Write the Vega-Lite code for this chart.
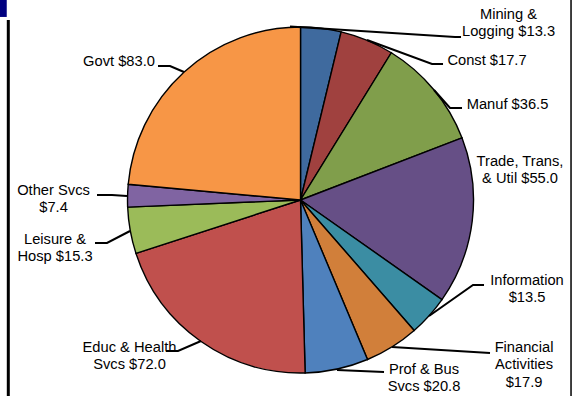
{
  "$schema": "https://vega.github.io/schema/vega-lite/v6.json",
  "width": 573,
  "height": 396,
  "autosize": {"type": "none"},
  "padding": 0,
  "background": "white",
  "config": {"view": {"stroke": null}},
  "datasets": {
    "sectors": [
      {"sector": "Mining & Logging", "value": 13.3, "ord": 1},
      {"sector": "Const", "value": 17.7, "ord": 2},
      {"sector": "Manuf", "value": 36.5, "ord": 3},
      {"sector": "Trade, Trans, & Util", "value": 55.0, "ord": 4},
      {"sector": "Information", "value": 13.5, "ord": 5},
      {"sector": "Financial Activities", "value": 17.9, "ord": 6},
      {"sector": "Prof & Bus Svcs", "value": 20.8, "ord": 7},
      {"sector": "Educ & Health Svcs", "value": 72.0, "ord": 8},
      {"sector": "Leisure & Hosp", "value": 15.3, "ord": 9},
      {"sector": "Other Svcs", "value": 7.4, "ord": 10},
      {"sector": "Govt", "value": 83.0, "ord": 11}
    ],
    "labels": [
      {"label": "Mining &\nLogging $13.3", "lx": 1.2023, "ly": 1.0694},
      {"label": "Const $17.7", "lx": 1.078, "ly": 0.8035},
      {"label": "Manuf $36.5", "lx": 1.1965, "ly": 0.5491},
      {"label": "Trade, Trans,\n& Util $55.0", "lx": 1.2688, "ly": 0.2197},
      {"label": "Information\n$13.5", "lx": 1.3092, "ly": -0.4682},
      {"label": "Financial\nActivities\n$17.9", "lx": 1.2919, "ly": -0.8555},
      {"label": "Prof & Bus\nSvcs $20.8", "lx": 0.7139, "ly": -0.9827},
      {"label": "Educ & Health\nSvcs $72.0", "lx": -0.9884, "ly": -0.8555},
      {"label": "Leisure &\nHosp $15.3", "lx": -1.4191, "ly": -0.2312},
      {"label": "Other Svcs\n$7.4", "lx": -1.4277, "ly": 0.052},
      {"label": "Govt $83.0", "lx": -1.0491, "ly": 0.7977}
    ],
    "leaders": [
      {"sector": "Mining", "seq": 1, "x": -0.0607, "y": 1.003},
      {"sector": "Mining", "seq": 2, "x": 0.8931, "y": 0.9422},
      {"sector": "Mining", "seq": 3, "x": 0.9277, "y": 0.9422},
      {"sector": "Const", "seq": 1, "x": 0.3844, "y": 0.9249},
      {"sector": "Const", "seq": 2, "x": 0.7601, "y": 0.7861},
      {"sector": "Const", "seq": 3, "x": 0.8237, "y": 0.7861},
      {"sector": "Manuf", "seq": 1, "x": 0.7717, "y": 0.6358},
      {"sector": "Manuf", "seq": 2, "x": 0.8642, "y": 0.5318},
      {"sector": "Manuf", "seq": 3, "x": 0.9335, "y": 0.5318},
      {"sector": "Information", "seq": 1, "x": 0.7428, "y": -0.6705},
      {"sector": "Information", "seq": 2, "x": 0.9971, "y": -0.4913},
      {"sector": "Information", "seq": 3, "x": 1.0607, "y": -0.4913},
      {"sector": "Financial", "seq": 1, "x": 0.5289, "y": -0.8497},
      {"sector": "Financial", "seq": 2, "x": 1.0954, "y": -0.8844},
      {"sector": "Prof", "seq": 1, "x": 0.211, "y": -0.9827},
      {"sector": "Prof", "seq": 2, "x": 0.4827, "y": -0.9942},
      {"sector": "Educ", "seq": 1, "x": -0.5751, "y": -0.815},
      {"sector": "Educ", "seq": 2, "x": -0.7081, "y": -0.8728},
      {"sector": "Educ", "seq": 3, "x": -0.7775, "y": -0.8728},
      {"sector": "Leisure", "seq": 1, "x": -0.9855, "y": -0.1792},
      {"sector": "Leisure", "seq": 2, "x": -1.1185, "y": -0.2486},
      {"sector": "Leisure", "seq": 3, "x": -1.1879, "y": -0.2486},
      {"sector": "Other", "seq": 1, "x": -1.0029, "y": 0.0231},
      {"sector": "Other", "seq": 2, "x": -1.0896, "y": 0.0289},
      {"sector": "Other", "seq": 3, "x": -1.1763, "y": 0.0289},
      {"sector": "Govt", "seq": 1, "x": -0.6734, "y": 0.7399},
      {"sector": "Govt", "seq": 2, "x": -0.7543, "y": 0.7746},
      {"sector": "Govt", "seq": 3, "x": -0.8237, "y": 0.7746}
    ]
  },
  "layer": [
    {
      "data": {"name": "sectors"},
      "mark": {"type": "arc", "outerRadius": 173, "stroke": "black", "strokeWidth": 1.4},
      "encoding": {
        "x": {"datum": 0, "type": "quantitative", "axis": null, "scale": {"domain": [-1.737, 1.575], "nice": false, "zero": false}},
        "y": {"datum": 0, "type": "quantitative", "axis": null, "scale": {"domain": [-1.133, 1.156], "nice": false, "zero": false}},
        "theta": {"field": "value", "type": "quantitative", "stack": true},
        "order": {"field": "ord", "type": "quantitative"},
        "color": {
          "field": "sector",
          "type": "nominal",
          "legend": null,
          "scale": {
            "domain": ["Mining & Logging", "Const", "Manuf", "Trade, Trans, & Util", "Information", "Financial Activities", "Prof & Bus Svcs", "Educ & Health Svcs", "Leisure & Hosp", "Other Svcs", "Govt"],
            "range": ["#3F6A9E", "#A0413F", "#809E4B", "#664F86", "#3B8DA3", "#D17F3A", "#4F81BD", "#C0504D", "#9BBB59", "#8064A2", "#F79646"]
          }
        }
      }
    },
    {
      "data": {"name": "leaders"},
      "mark": {"type": "line", "color": "black", "strokeWidth": 2},
      "encoding": {
        "x": {"field": "x", "type": "quantitative", "axis": null},
        "y": {"field": "y", "type": "quantitative", "axis": null},
        "detail": {"field": "sector"},
        "order": {"field": "seq", "type": "quantitative"}
      }
    },
    {
      "data": {"name": "labels"},
      "mark": {"type": "text", "font": "Liberation Sans", "fontSize": 14.7, "lineBreak": "\n", "lineHeight": 17.5, "align": "center", "baseline": "middle", "color": "black"},
      "encoding": {
        "x": {"field": "lx", "type": "quantitative", "axis": null},
        "y": {"field": "ly", "type": "quantitative", "axis": null},
        "text": {"field": "label"}
      }
    },
    {
      "data": {"values": [{}]},
      "mark": {"type": "rect", "color": "#000080"},
      "encoding": {
        "x": {"datum": -1.737, "type": "quantitative"},
        "x2": {"datum": -1.698},
        "y": {"datum": 1.156, "type": "quantitative"},
        "y2": {"datum": 1.058}
      }
    },
    {
      "data": {"values": [{}]},
      "mark": {"type": "rule", "color": "black", "strokeWidth": 3},
      "encoding": {
        "x": {"datum": -1.689, "type": "quantitative"},
        "y": {"datum": 1.04, "type": "quantitative"},
        "y2": {"datum": -1.133}
      }
    },
    {
      "data": {"values": [{}]},
      "mark": {"type": "rule", "color": "black", "strokeWidth": 1.5},
      "encoding": {
        "x": {"datum": 1.5636, "type": "quantitative"},
        "y": {"datum": 1.156, "type": "quantitative"},
        "y2": {"datum": -1.133}
      }
    }
  ]
}
